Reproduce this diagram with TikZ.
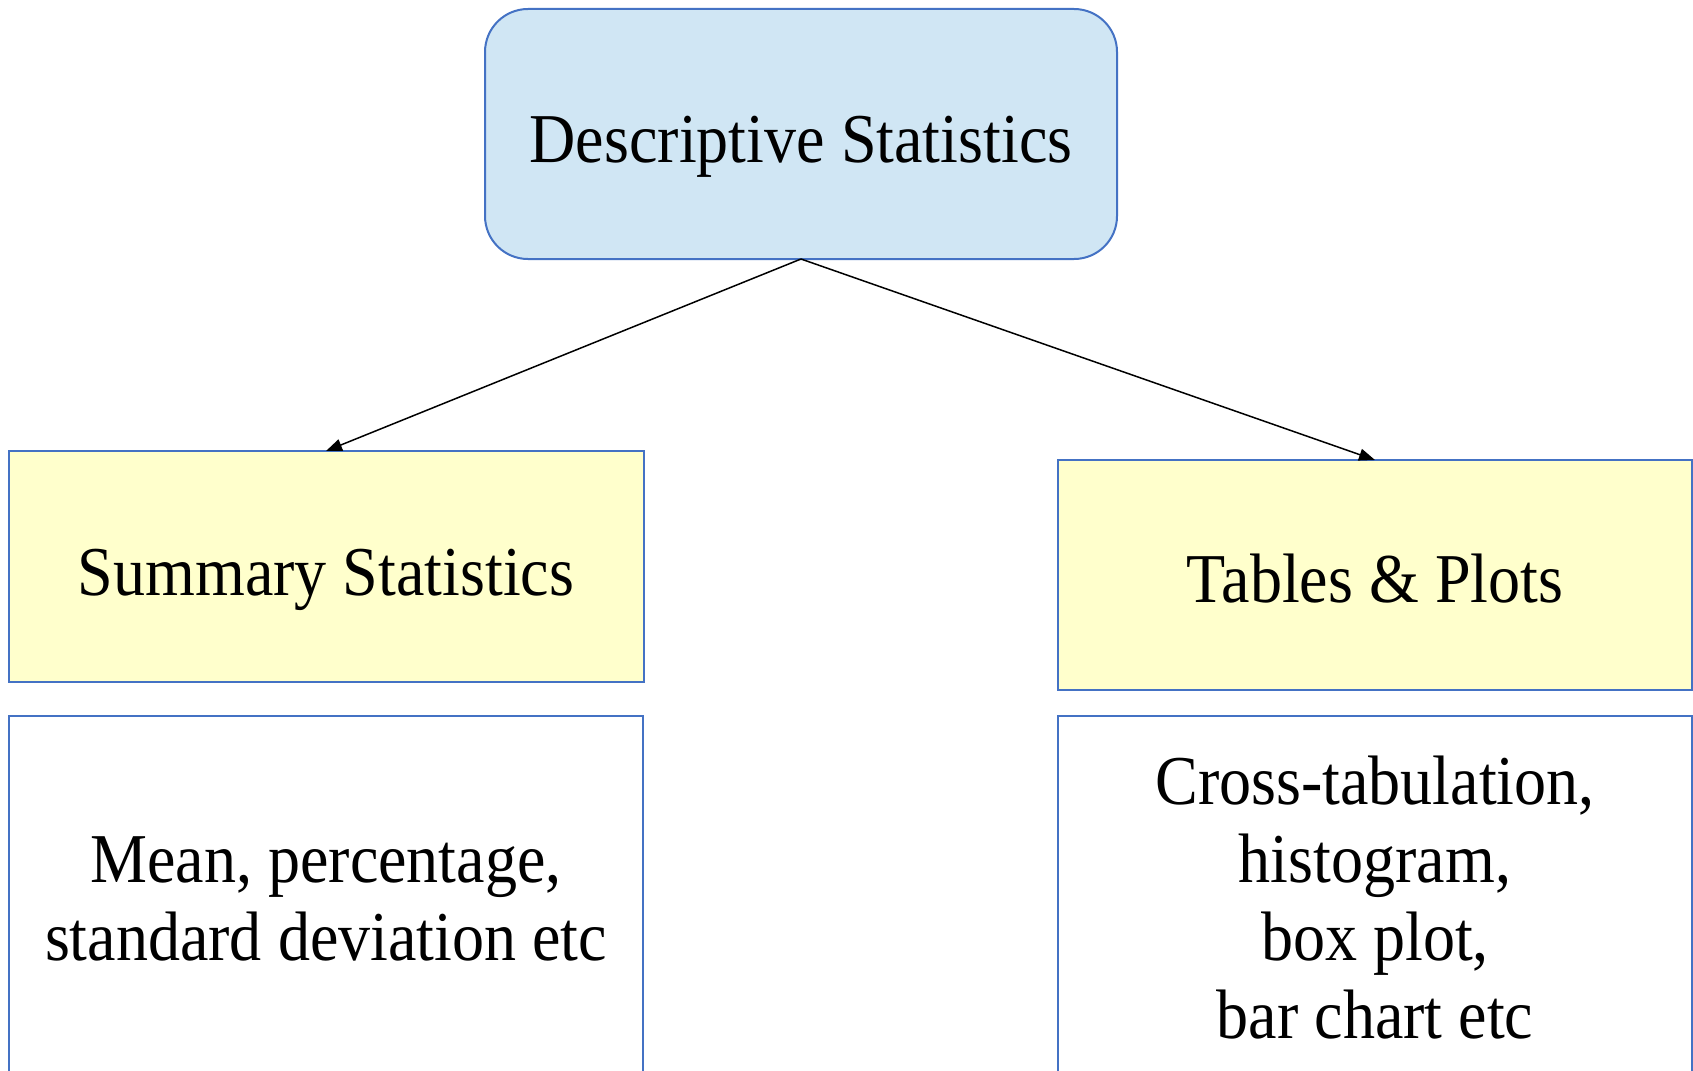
\documentclass[tikz,border=0pt]{standalone}
\usepackage{fontspec}
\setmainfont{Liberation Serif}[FakeStretch=0.915]
\usetikzlibrary{arrows.meta}
\definecolor{bordblue}{HTML}{4472C4}
\definecolor{fillblue}{HTML}{D0E6F4}
\definecolor{fillyellow}{HTML}{FFFFCC}
\begin{document}
\begin{tikzpicture}[x=1pt,y=-1pt,
  boxbase/.style={draw=bordblue, line width=2pt, inner sep=0pt, outer sep=0pt},
  topbox/.style={boxbase, fill=fillblue, rounded corners=43pt},
  midbox/.style={boxbase, fill=fillyellow},
  lowbox/.style={boxbase, fill=white},
  lbl/.style={inner sep=0pt, font=\fontsize{70}{78}\selectfont},
  arr/.style={draw=black, line width=1.5pt, -{Triangle[length=16pt,width=12pt]}}]
\clip (0,0) rectangle (1693,1070);
\fill[white] (0,0) rectangle (1693,1070);
% boxes
\node[topbox, minimum width=632pt, minimum height=250pt] (ds) at (801,134) {};
\node[midbox, minimum width=635pt, minimum height=231pt] (ss) at (326,566.5) {};
\node[midbox, minimum width=634pt, minimum height=230pt] (tp) at (1375,575) {};
\node[lowbox, minimum width=634pt, minimum height=384pt] (sd) at (325.5,908) {};
\node[lowbox, minimum width=634pt, minimum height=384pt] (td) at (1375,908) {};
% texts
\node[lbl, anchor=base] (tds) at (801,162) {Descriptive Statistics};
\node[lbl, anchor=base] (tss) at (326,595) {Summary Statistics};
\node[lbl, anchor=base] (ttp) at (1375,602) {Tables \& Plots};
\node[lbl, anchor=base, align=center] (tsd) at (326,960) {Mean, percentage,\\standard deviation etc};
\node[lbl, anchor=base, align=center] (ttd) at (1375,1038) {Cross-tabulation,\\histogram,\\box plot,\\bar chart etc};
% connectors
\draw[arr] (ds.south) -- (ss.north);
\draw[arr] (ds.south) -- (tp.north);
\end{tikzpicture}
\end{document}
